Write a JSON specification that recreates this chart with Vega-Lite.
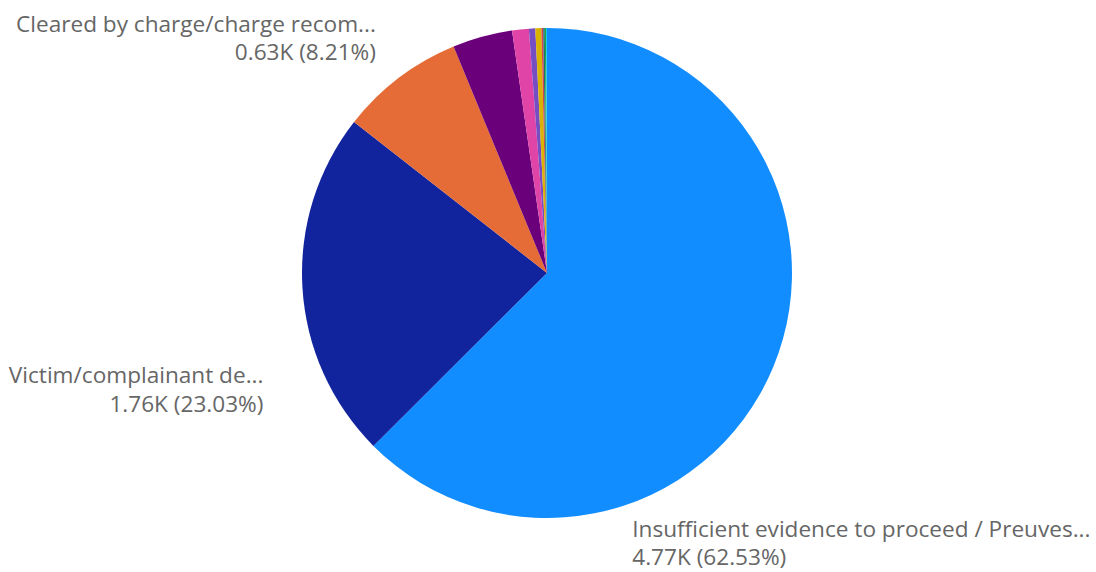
{
  "$schema": "https://vega.github.io/schema/vega-lite/v6.json",
  "width": 1094,
  "height": 546,
  "autosize": {"type": "none"},
  "padding": {"left": 0, "top": 0, "right": 2, "bottom": 26},
  "background": "white",
  "view": {"stroke": null},
  "data": {
    "values": [
      {"category": "Insufficient evidence to proceed / Preuves insuffisantes pour procéder", "count": 4770, "label": ["Insufficient evidence to proceed / Preuves...", "4.77K (62.53%)"]},
      {"category": "Victim/complainant declines to proceed", "count": 1757, "label": ["Victim/complainant de...", "1.76K (23.03%)"]},
      {"category": "Cleared by charge/charge recommended", "count": 626, "label": ["Cleared by charge/charge recom...", "0.63K (8.21%)"]},
      {"category": "Departmental discretion", "count": 301, "label": ""},
      {"category": "Cleared otherwise", "count": 84, "label": ""},
      {"category": "Diversionary program", "count": 32, "label": ""},
      {"category": "Unfounded", "count": 30, "label": ""},
      {"category": "Death of accused", "count": 9, "label": ""},
      {"category": "Accused in foreign country", "count": 8, "label": ""},
      {"category": "Accused less than 12 years old", "count": 6, "label": ""},
      {"category": "Other", "count": 5, "label": ""}
    ]
  },
  "encoding": {
    "theta": {"field": "count", "type": "quantitative", "stack": true},
    "order": {"field": "count", "type": "quantitative", "sort": "descending"}
  },
  "layer": [
    {
      "mark": {"type": "arc", "outerRadius": 245},
      "encoding": {
        "color": {
          "field": "category",
          "type": "nominal",
          "legend": null,
          "sort": {"field": "count", "order": "descending"},
          "scale": {
            "domain": [
              "Insufficient evidence to proceed / Preuves insuffisantes pour procéder",
              "Victim/complainant declines to proceed",
              "Cleared by charge/charge recommended",
              "Departmental discretion",
              "Cleared otherwise",
              "Diversionary program",
              "Unfounded",
              "Death of accused",
              "Accused in foreign country",
              "Accused less than 12 years old",
              "Other"
            ],
            "range": ["#118DFF", "#12239E", "#E66C37", "#6B007B", "#E044A7", "#744EC2", "#D9B300", "#D64550", "#197278", "#1AAB40", "#15C6F4"]
          }
        }
      }
    },
    {
      "mark": {"type": "text", "radius": 245, "align": "right", "baseline": "alphabetic", "dx": -23, "dy": -46, "font": "Open Sans", "fontSize": 22.6, "lineHeight": 28, "color": "#666666"},
      "encoding": {
        "text": {"condition": {"test": "datum.count === 626", "field": "label"}, "value": ""}
      }
    },
    {
      "mark": {"type": "text", "radius": 245, "align": "right", "baseline": "alphabetic", "dx": -39, "dy": 95, "font": "Open Sans", "fontSize": 22.6, "lineHeight": 29, "color": "#666666"},
      "encoding": {
        "text": {"condition": {"test": "datum.count === 1757", "field": "label"}, "value": ""}
      }
    },
    {
      "mark": {"type": "text", "radius": 245, "align": "left", "baseline": "alphabetic", "dx": -141, "dy": 170, "font": "Open Sans", "fontSize": 22.6, "lineHeight": 28, "color": "#666666"},
      "encoding": {
        "text": {"condition": {"test": "datum.count === 4770", "field": "label"}, "value": ""}
      }
    }
  ]
}
